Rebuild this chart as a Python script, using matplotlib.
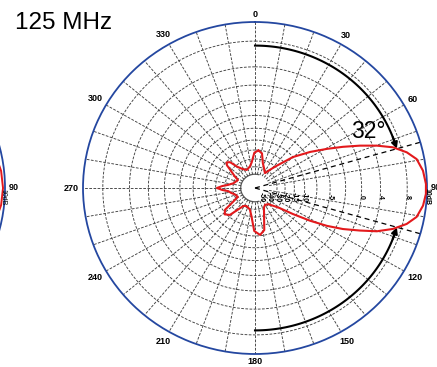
import numpy as np
import matplotlib
matplotlib.use('Agg')
import matplotlib.pyplot as plt

plt.rcParams['font.family'] = ['Liberation Sans', 'DejaVu Sans']

# --- radial scale of the chart paper: dB -> fraction of plot radius ---
scale_db = [-60, -50, -40, -30, -20, -15, -10, -7.5, -5, -2.5, 0, 4, 8, 10]
scale_r = [0.0, 0.035, 0.083, 0.128, 0.175, 0.229, 0.289, 0.36, 0.437, 0.527, 0.62, 0.73, 0.885, 1.0]

ring_db = [-30, -20, -15, -10, -7.5, -5, -2.5, 0, 4, 8]
inner_ring_db = -40
rlabel_db = [10, 8, 4, 0, -5, -10, -15, -20, -30, -40, -50]
rlabel_txt = ['10dB', '8', '4', '0', '-5', '-10', '-15', '-20', '-30', '-40', '-50']

angle_ticks = [0, 30, 60, 90, 120, 150, 180, 210, 240, 270, 300, 330]
spoke_step = 10

# --- 125 MHz pattern: bearing (deg, clockwise from north) and gain (dB) ---
pattern_deg = [5, 11, 17, 23, 28, 33, 38, 43.2, 49.8, 55.9, 60.6, 64.1, 67.3, 70.2, 73, 76.3,
               79.5, 83.9, 88.6, 92.1, 96.2, 100.5, 103.8, 107.1, 110.2, 112.8, 115.8, 118.6,
               121.6, 125.4, 130.3, 136, 142, 150, 156, 162, 168, 174, 181, 187, 193, 205, 212,
               217, 222, 228, 233, 237, 242, 252, 258, 263, 266.5, 270, 273.5, 277, 283, 296,
               301, 306, 310, 313, 317, 321, 327, 336, 347, 353, 359]
pattern_db = [-15.2, -16.5, -24, -29, -32.5, -34.7, -28, -19.2, -10, -6.6, -3.8, -1.4, 1.5, 4.6,
              6.8, 8.4, 9.23, 9.69, 9.9, 9.9, 9.7, 9.23, 8.4, 6.8, 4.65, 1.5, -1.4, -3.9, -6.95,
              -11.5, -19, -26, -31, -32.4, -30, -21, -12.5, -10.4, -12.5, -21, -29, -32, -30,
              -23, -16, -14.3, -16, -25, -33.3, -31, -27, -24, -18.5, -15.7, -18.5, -24, -30,
              -34, -28, -21, -16.5, -15.3, -16.5, -22, -28, -32, -29, -24, -16.5]

beam_width = 32
arc_db = 7.3

# neighbouring panel, only its right rim is in view
left_deg = [60, 70, 78, 84, 90, 96, 102, 110, 120]
left_db = [7.0, 8.5, 9.4, 9.7, 9.8, 9.7, 9.4, 8.5, 7.0]

RED = '#e3191c'
BLUE = '#2447a0'
GRID = '0.25'


def db_to_r(d):
    return np.interp(d, scale_db, scale_r)


def r_to_db(r):
    return np.interp(r, scale_r, scale_db)


def setup(axp):
    axp.set_theta_zero_location('N')
    axp.set_theta_direction(-1)
    axp.set_rscale('function', functions=(db_to_r, r_to_db))
    axp.set_rlim(-60, 10)
    axp.set_aspect('auto')
    axp.set_xticks([])
    axp.set_yticks([])
    axp.grid(False)
    axp.spines['polar'].set_color(BLUE)
    axp.spines['polar'].set_linewidth(1.3)


def angle_label(axp, a, txt):
    s, c = np.sin(np.deg2rad(a)), np.cos(np.deg2rad(a))
    off = 4 + abs(s) * 2.6 * len(txt) + abs(c) * 3.5
    axp.annotate(txt, xy=(np.deg2rad(a), 10), xytext=(off * s, off * c),
                 textcoords='offset pixels', ha='center', va='center',
                 fontsize=6.5, fontweight='bold', annotation_clip=False)


fig = plt.figure(figsize=(4.37, 3.67), dpi=100)

# left neighbour panel
ax0 = fig.add_axes([(5 - 344) / 437, 13 / 367, 344 / 437, 332 / 367], projection='polar')
setup(ax0)
ax0.plot(np.deg2rad(left_deg), left_db, color=RED, lw=1.4)
angle_label(ax0, 90, '90')
ax0.annotate('10dB', xy=(np.deg2rad(90), 10), xytext=(-2, -9), textcoords='offset pixels',
             rotation=-90, ha='center', va='center', fontsize=5, annotation_clip=False)

# main panel
ax = fig.add_axes([83 / 437, 13 / 367, 344 / 437, 332 / 367], projection='polar')
setup(ax)

full = np.deg2rad(np.linspace(0, 360, 361))
for d in ring_db:
    ax.plot(full, np.full_like(full, d), color=GRID, lw=0.65, dashes=(3, 1.6))
inner = np.deg2rad(np.linspace(165, 375, 120))
ax.plot(inner, np.full_like(inner, inner_ring_db), color='0.35', lw=0.9)

for a in range(0, 360, spoke_step):
    if a == 90:
        continue
    ax.plot([np.deg2rad(a)] * 2, [inner_ring_db, 10], color=GRID, lw=0.65, dashes=(3, 1.6))

# beam-width markers
half = beam_width / 2
for a in (90 - half, 90 + half):
    ax.plot([np.deg2rad(a)] * 2, [-60, 10], color='k', lw=0.9, dashes=(4, 3))

th = np.deg2rad(pattern_deg + [pattern_deg[0] + 360])
ax.plot(th, pattern_db + [pattern_db[0]], color=RED, lw=1.5, zorder=5)

# arcs with arrows towards the -3 dB lines
up = np.deg2rad(np.linspace(0, 90 - half - 3, 100))
ax.plot(up, np.full_like(up, arc_db), color='k', lw=1.5)
dn = np.deg2rad(np.linspace(180, 90 + half + 3, 100))
ax.plot(dn, np.full_like(dn, arc_db), color='k', lw=1.5)
for a0, a1 in ((90 - half - 5, 90 - half), (90 + half + 5, 90 + half)):
    ax.annotate('', xy=(np.deg2rad(a1), arc_db), xytext=(np.deg2rad(a0), arc_db),
                arrowprops=dict(arrowstyle='-|>', color='k', lw=1.5, mutation_scale=9,
                                shrinkA=0, shrinkB=0))

for a in angle_ticks:
    angle_label(ax, a, str(a))

for d, t in zip(rlabel_db, rlabel_txt):
    ax.annotate(t, xy=(np.deg2rad(90), d), xytext=(0, -9), textcoords='offset pixels',
                rotation=-90, ha='center', va='center', fontsize=5, fontweight='bold',
                annotation_clip=False, zorder=6)

fig.text(368 / 437, 1 - 131 / 367, '32°', fontsize=16.5, ha='center', va='center')
fig.text(15 / 437, 1 - 29 / 367, '125 MHz', fontsize=17.5, ha='left', va='baseline')

fig.savefig('out.png', dpi=100)
